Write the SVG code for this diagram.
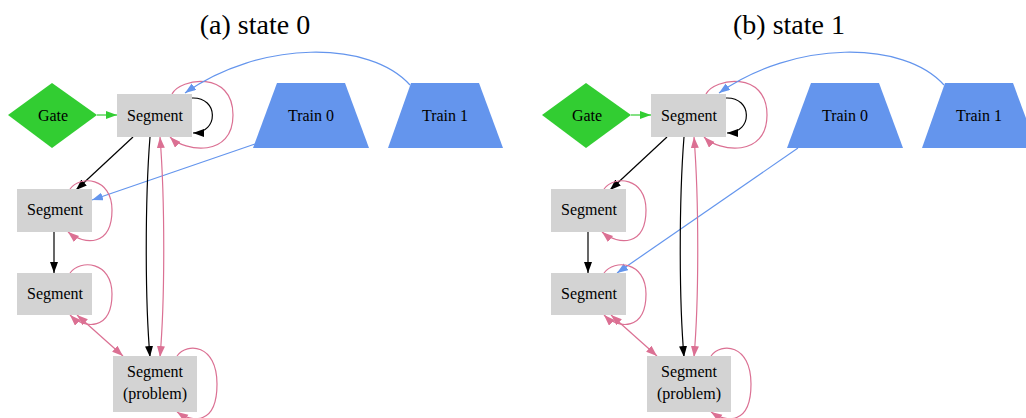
<svg xmlns="http://www.w3.org/2000/svg" width="1026" height="418" viewBox="0 0 1026 418">
<style>
text{font-family:"Liberation Serif","Times New Roman",serif;fill:#000;text-anchor:middle}
.t{font-size:16px}
.title{font-size:28px}
.seg{fill:#d3d3d3}
.gate{fill:#32cd32}
.train{fill:#6495ed}
.e{fill:none;stroke-width:1.2}
.k{stroke:#000}
.p{stroke:#db7093}
.b{stroke:#6495ed}
.g{stroke:#32cd32}
</style>
<defs>
<marker id="ak" markerUnits="userSpaceOnUse" markerWidth="12" markerHeight="9" refX="11" refY="4" orient="auto"><path d="M0,0L11,4L0,8z" fill="#000"/></marker>
<marker id="ap" markerUnits="userSpaceOnUse" markerWidth="12" markerHeight="9" refX="11" refY="4" orient="auto-start-reverse"><path d="M0,0L11,4L0,8z" fill="#db7093"/></marker>
<marker id="ab" markerUnits="userSpaceOnUse" markerWidth="12" markerHeight="9" refX="11" refY="4" orient="auto"><path d="M0,0L11,4L0,8z" fill="#6495ed"/></marker>
<marker id="ag" markerUnits="userSpaceOnUse" markerWidth="12" markerHeight="9" refX="11" refY="4" orient="auto"><path d="M0,0L11,4L0,8z" fill="#32cd32"/></marker>
</defs>
<rect width="1026" height="418" fill="#fff"/>
<g id="panel-a">
<text class="title" x="255" y="34">(a) state 0</text>
<g id="a-connectors">
<path class="e g" d="M97,115L117,115" marker-end="url(#ag)"/>
<path class="e k" d="M192,98C219,97 219,133 193,133" marker-end="url(#ak)"/>
<path class="e p" d="M172,94C180,78 233,70 233,115C233,158 185,152 170,137" marker-end="url(#ap)"/>
<path class="e b" d="M410,85C370,40 260,40 185,93" marker-end="url(#ab)"/>
<path class="e b" d="M255,144L92,200" marker-end="url(#ab)"/>
<path class="e k" d="M133,137L76,190" marker-end="url(#ak)"/>
<path class="e k" d="M150,137C145,200 145,300 150,357" marker-end="url(#ak)"/>
<path class="e p" d="M160,137C165,200 165,300 160,357" marker-start="url(#ap)" marker-end="url(#ap)"/>
<path class="e p" d="M70,189C80,175 112,177 112,210C112,246 85,246 68,232" marker-end="url(#ap)"/>
<path class="e k" d="M54,232L54,273" marker-end="url(#ak)"/>
<path class="e p" d="M70,273C80,259 112,261 112,294C112,330 85,330 70,315" marker-end="url(#ap)"/>
<path class="e p" d="M77,315L123,356" marker-start="url(#ap)" marker-end="url(#ap)"/>
<path class="e p" d="M177,356C187,342 217,344 217,384C217,426 192,422 177,412" marker-end="url(#ap)"/>
</g>
<g id="a-gate"><polygon class="gate" points="8,115 52,83 97,115 52,148"/><text class="t" x="53" y="121">Gate</text></g>
<g id="a-seg1"><rect class="seg" x="117" y="94" width="75" height="43"/><text class="t" x="155" y="121">Segment</text></g>
<g id="a-seg2"><rect class="seg" x="17" y="189" width="75" height="43"/><text class="t" x="55" y="215">Segment</text></g>
<g id="a-seg3"><rect class="seg" x="17" y="273" width="75" height="42"/><text class="t" x="55" y="299">Segment</text></g>
<g id="a-seg4"><rect class="seg" x="113" y="356" width="84" height="56"/><text class="t" x="155" y="377">Segment</text><text class="t" x="155" y="399">(problem)</text></g>
<g id="a-train0"><polygon class="train" points="277,83 345,83 369,148 253,148"/><text class="t" x="311" y="121">Train 0</text></g>
<g id="a-train1"><polygon class="train" points="411,83 479,83 503,148 388,148"/><text class="t" x="445" y="121">Train 1</text></g>
</g>
<g id="panel-b" transform="translate(534,0)">
<text class="title" x="255" y="34">(b) state 1</text>
<g id="b-connectors">
<path class="e g" d="M97,115L117,115" marker-end="url(#ag)"/>
<path class="e k" d="M192,98C219,97 219,133 193,133" marker-end="url(#ak)"/>
<path class="e p" d="M172,94C180,78 233,70 233,115C233,158 185,152 170,137" marker-end="url(#ap)"/>
<path class="e b" d="M410,85C370,40 260,40 185,93" marker-end="url(#ab)"/>
<path class="e b" d="M264,148L83,273" marker-end="url(#ab)"/>
<path class="e k" d="M133,137L76,190" marker-end="url(#ak)"/>
<path class="e k" d="M150,137C145,200 145,300 150,357" marker-end="url(#ak)"/>
<path class="e p" d="M160,137C165,200 165,300 160,357" marker-start="url(#ap)" marker-end="url(#ap)"/>
<path class="e p" d="M70,189C80,175 112,177 112,210C112,246 85,246 68,232" marker-end="url(#ap)"/>
<path class="e k" d="M54,232L54,273" marker-end="url(#ak)"/>
<path class="e p" d="M70,273C80,259 112,261 112,294C112,330 85,330 70,315" marker-end="url(#ap)"/>
<path class="e p" d="M77,315L123,356" marker-start="url(#ap)" marker-end="url(#ap)"/>
<path class="e p" d="M177,356C187,342 217,344 217,384C217,426 192,422 177,412" marker-end="url(#ap)"/>
</g>
<g id="b-gate"><polygon class="gate" points="8,115 52,83 97,115 52,148"/><text class="t" x="53" y="121">Gate</text></g>
<g id="b-seg1"><rect class="seg" x="117" y="94" width="75" height="43"/><text class="t" x="155" y="121">Segment</text></g>
<g id="b-seg2"><rect class="seg" x="17" y="189" width="75" height="43"/><text class="t" x="55" y="215">Segment</text></g>
<g id="b-seg3"><rect class="seg" x="17" y="273" width="75" height="42"/><text class="t" x="55" y="299">Segment</text></g>
<g id="b-seg4"><rect class="seg" x="113" y="356" width="84" height="56"/><text class="t" x="155" y="377">Segment</text><text class="t" x="155" y="399">(problem)</text></g>
<g id="b-train0"><polygon class="train" points="277,83 345,83 369,148 253,148"/><text class="t" x="311" y="121">Train 0</text></g>
<g id="b-train1"><polygon class="train" points="411,83 479,83 503,148 388,148"/><text class="t" x="445" y="121">Train 1</text></g>
</g>
</svg>
